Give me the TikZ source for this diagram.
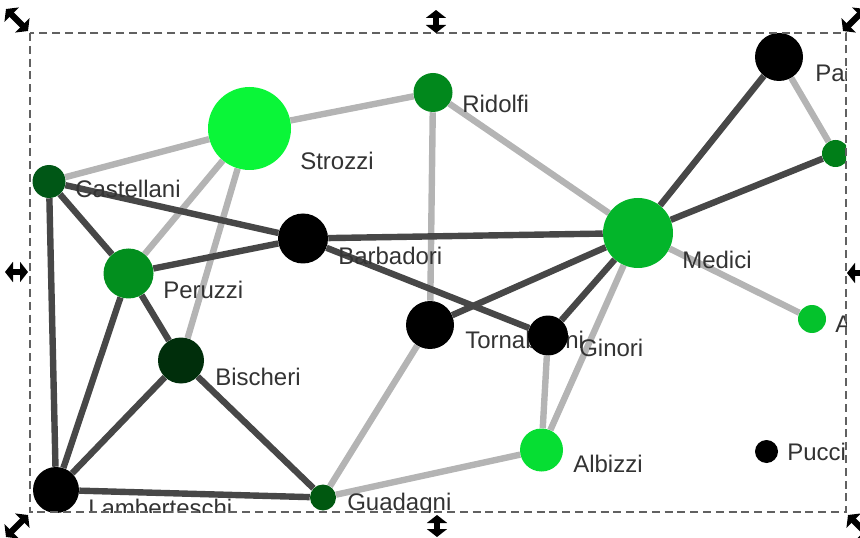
\documentclass[tikz,border=0pt]{standalone}
\usepackage{fontspec}
\setmainfont{Liberation Sans}
\usetikzlibrary{arrows.meta,backgrounds}
\definecolor{edark}{HTML}{474747}
\definecolor{elight}{HTML}{B4B4B4}
\definecolor{txt}{HTML}{333333}
\definecolor{cStrozzi}{HTML}{0AF638}
\definecolor{cRidolfi}{HTML}{01881C}
\definecolor{cCastellani}{HTML}{005716}
\definecolor{cPeruzzi}{HTML}{028F1E}
\definecolor{cBischeri}{HTML}{002E0B}
\definecolor{cGuadagni}{HTML}{005810}
\definecolor{cMedici}{HTML}{03B52A}
\definecolor{cAlbizzi}{HTML}{06DE33}
\definecolor{cSalviati}{HTML}{007E18}
\definecolor{cAcciaiuoli}{HTML}{04C22C}
\begin{document}
\begin{tikzpicture}[x=0.75pt,y=-0.75pt,
  vtx/.style 2 args={circle, fill=#1, draw=none, inner sep=0pt, minimum size=#2*1.5pt},
  lbl/.style={anchor=base west, inner sep=0pt, text=txt, font=\fontsize{18}{20}\selectfont},
  dk/.style={draw=edark, line width=4.8pt},
  lt/.style={draw=elight, line width=4.8pt},
  frame/.style={draw=black!62, line width=1.1pt, dash pattern=on 6pt off 3.6pt},
  handle/.style={line width=4.6pt, {Triangle[width=15pt,length=6pt]}-{Triangle[width=15pt,length=6pt]}}]
\useasboundingbox (0,0) rectangle (860,538);
\begin{scope}
\clip (30,33) rectangle (846,512);
% nodes and labels
\node[vtx={cStrozzi}{41.5}] (Strozzi) at (249.5,128.5) {};
\node[lbl] (lStrozzi) at (300,170) {Strozzi};
\node[vtx={cRidolfi}{19.5}] (Ridolfi) at (433,92.5) {};
\node[lbl] (lRidolfi) at (462,113) {Ridolfi};
\node[vtx={cCastellani}{16.5}] (Castellani) at (49,181.5) {};
\node[lbl] (lCastellani) at (75,198) {Castellani};
\node[vtx={black}{25}] (Barbadori) at (303,238.5) {};
\node[lbl] (lBarbadori) at (338,265) {Barbadori};
\node[vtx={cPeruzzi}{25}] (Peruzzi) at (128.5,273.5) {};
\node[lbl] (lPeruzzi) at (163,298) {Peruzzi};
\node[vtx={cBischeri}{23}] (Bischeri) at (181,360.5) {};
\node[lbl] (lBischeri) at (215,385) {Bischeri};
\node[vtx={black}{23}] (Lamberteschi) at (56,490) {};
\node[lbl] (lLamberteschi) at (88,516) {Lamberteschi};
\node[vtx={cGuadagni}{13}] (Guadagni) at (323,497.5) {};
\node[lbl] (lGuadagni) at (347,510) {Guadagni};
\node[vtx={black}{24}] (Tornabuoni) at (430,325) {};
\node[lbl] (lTornabuoni) at (465,348) {Tornabuoni};
\node[vtx={black}{20}] (Ginori) at (548,335.5) {};
\node[lbl] (lGinori) at (579,356) {Ginori};
\node[vtx={cMedici}{35}] (Medici) at (638,233) {};
\node[lbl] (lMedici) at (682,268) {Medici};
\node[vtx={cAlbizzi}{21.5}] (Albizzi) at (541.5,450) {};
\node[lbl] (lAlbizzi) at (573,472) {Albizzi};
\node[vtx={black}{24}] (Pazzi) at (779,57) {};
\node[lbl] (lPazzi) at (815,82) {Pazzi};
\node[vtx={cSalviati}{13.5}] (Salviati) at (835.5,153.5) {};
\node[vtx={cAcciaiuoli}{14}] (Acciaiuoli) at (812,319) {};
\node[lbl] (lAcciaiuoli) at (835,332) {Acciaiuoli};
\node[vtx={black}{11.5}] (Pucci) at (766.5,451.5) {};
\node[lbl] (lPucci) at (787,460) {Pucci};
% edges
\begin{scope}[on background layer]
\clip (30,33) rectangle (846,512);
\draw[lt] (Strozzi) -- (Ridolfi);
\draw[lt] (Strozzi) -- (Castellani);
\draw[lt] (Strozzi) -- (Peruzzi);
\draw[lt] (Strozzi) -- (Bischeri);
\draw[lt] (Ridolfi) -- (Tornabuoni);
\draw[lt] (Ridolfi) -- (Medici);
\draw[lt] (Tornabuoni) -- (Guadagni);
\draw[lt] (Guadagni) -- (Albizzi);
\draw[lt] (Ginori) -- (Albizzi);
\draw[lt] (Medici) -- (Albizzi);
\draw[lt] (Medici) -- (Acciaiuoli);
\draw[lt] (Pazzi) -- (Salviati);
\draw[dk] (Castellani) -- (Barbadori);
\draw[dk] (Castellani) -- (Peruzzi);
\draw[dk] (Castellani) -- (Lamberteschi);
\draw[dk] (Peruzzi) -- (Barbadori);
\draw[dk] (Peruzzi) -- (Bischeri);
\draw[dk] (Peruzzi) -- (Lamberteschi);
\draw[dk] (Bischeri) -- (Lamberteschi);
\draw[dk] (Bischeri) -- (Guadagni);
\draw[dk] (Lamberteschi) -- (Guadagni);
\draw[dk] (Barbadori) -- (Medici);
\draw[dk] (Barbadori) -- (Ginori);
\draw[dk] (Tornabuoni) -- (Medici);
\draw[dk] (Ginori) -- (Medici);
\draw[dk] (Medici) -- (Pazzi);
\draw[dk] (Medici) -- (Salviati);
\end{scope}
\end{scope}
% selection frame
\draw[frame] (30,33) rectangle (846,512);
% handles
\draw[handle] (6,9) -- (28,31);
\draw[handle] (436,10) -- (436,33);
\draw[handle] (843,31) -- (865,9);
\draw[handle] (5,272) -- (28,272);
\draw[handle] (847,273) -- (870,273);
\draw[handle] (6,537) -- (28,515);
\draw[handle] (437,515) -- (437,537);
\draw[handle] (848,515) -- (870,537);
\end{tikzpicture}
\end{document}
